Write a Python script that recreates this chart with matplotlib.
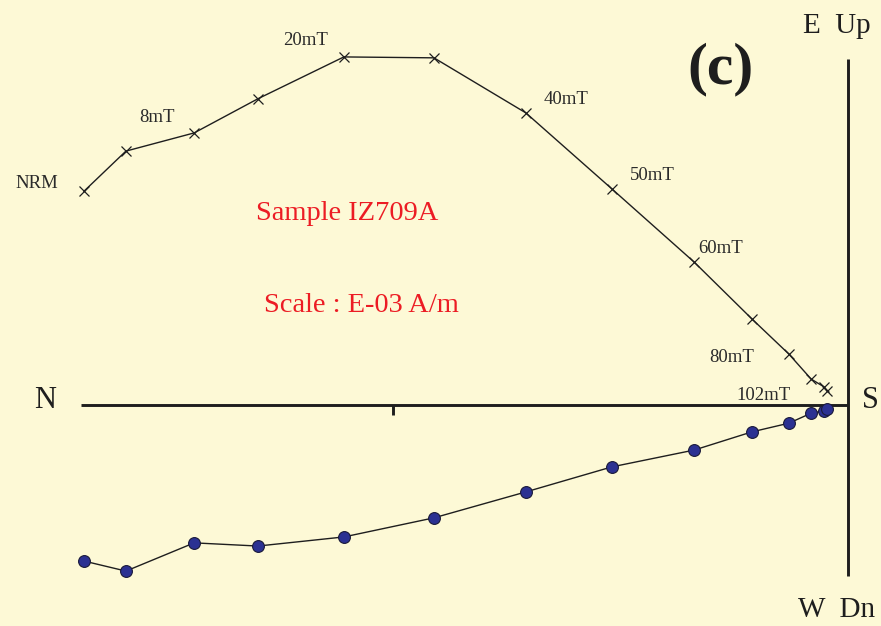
import numpy as np
from matplotlib import pyplot as plt

plt.rcParams["font.family"] = ["Liberation Serif", "DejaVu Serif"]

# demagnetisation steps (AF, mT) and vector end points, one tick = 1 unit
steps = ["NRM", "", "8mT", "", "20mT", "", "40mT", "50mT", "60mT", "", "80mT", "", "", "102mT"]
north = [-1.679, -1.587, -1.437, -1.297, -1.108, -0.910, -0.708, -0.519, -0.338, -0.211, -0.130, -0.081, -0.053, -0.046]
east_up = [0.470, 0.558, 0.598, 0.673, 0.765, 0.763, 0.642, 0.475, 0.314, 0.189, 0.112, 0.057, 0.040, 0.031]
down = [-0.343, -0.365, -0.303, -0.310, -0.290, -0.248, -0.191, -0.136, -0.099, -0.059, -0.040, -0.018, -0.013, -0.009]

# label offsets in pixels (dx, dy)
label_offset = {"NRM": (-47, 8), "8mT": (-37, 15), "20mT": (-38, 16), "40mT": (40, 13),
                "50mT": (40, 13), "60mT": (26, 14), "80mT": (-57, -3), "102mT": (-64, -5)}

bg = "#fdf9d6"
red = "#ec1c24"
ink = "#1e1e1e"

fig = plt.figure(figsize=(8.81, 6.26), dpi=100, facecolor=bg)
ax = fig.add_axes([0, 0, 1, 1], facecolor=bg)
ax.set_xlim(-848 / 455, 33 / 455)
ax.set_ylim(-221 / 455, 405 / 455)
ax.axis("off")

# axes of the diagram
x0 = min(north) - 0.007
ax.plot([x0, 0], [0, 0], color=ink, lw=2.1, solid_capstyle="butt", zorder=2)
ax.plot([0, 0], [max(east_up) - 0.005, min(down) - 0.01], color=ink, lw=2.1, solid_capstyle="butt", zorder=2)
ax.plot([-1, -1], [0, -0.022], color=ink, lw=2.1, solid_capstyle="butt", zorder=2)

# horizontal projection (crosses) and vertical projection (dots)
ax.plot(north, east_up, color=ink, lw=1.0, marker="x", ms=7.5, mew=0.9, mec=ink, zorder=3)
ax.plot(north, down, color=ink, lw=1.0, marker="o", ms=8.5, mfc="#2b3192", mec="#1a1a3a", mew=0.8, zorder=3)

for s, x, y in zip(steps, north, east_up):
    if s:
        ax.annotate(s, (x, y), xytext=label_offset[s], textcoords="offset pixels",
                    ha="center", va="center", fontsize=13.5, color="#2a2a2a")

fig.text(45 / 881, 1 - 401 / 626, "N", ha="center", va="center", fontsize=22, color=ink)
fig.text(870 / 881, 1 - 400 / 626, "S", ha="center", va="center", fontsize=22, color=ink)
fig.text(837 / 881, 1 - 26 / 626, "E  Up", ha="center", va="center", fontsize=21, color=ink)
fig.text(837 / 881, 1 - 610 / 626, "W  Dn", ha="center", va="center", fontsize=21, color=ink)
fig.text(721 / 881, 1 - 69 / 626, "(c)", ha="center", va="center", fontsize=43, fontweight="bold", color=ink)
fig.text(347 / 881, 1 - 214 / 626, "Sample IZ709A", ha="center", va="center", fontsize=20.5, color=red)
fig.text(361 / 881, 1 - 305 / 626, "Scale : E-03 A/m", ha="center", va="center", fontsize=20.5, color=red)

fig.savefig("out.png", dpi=100, facecolor=bg)
